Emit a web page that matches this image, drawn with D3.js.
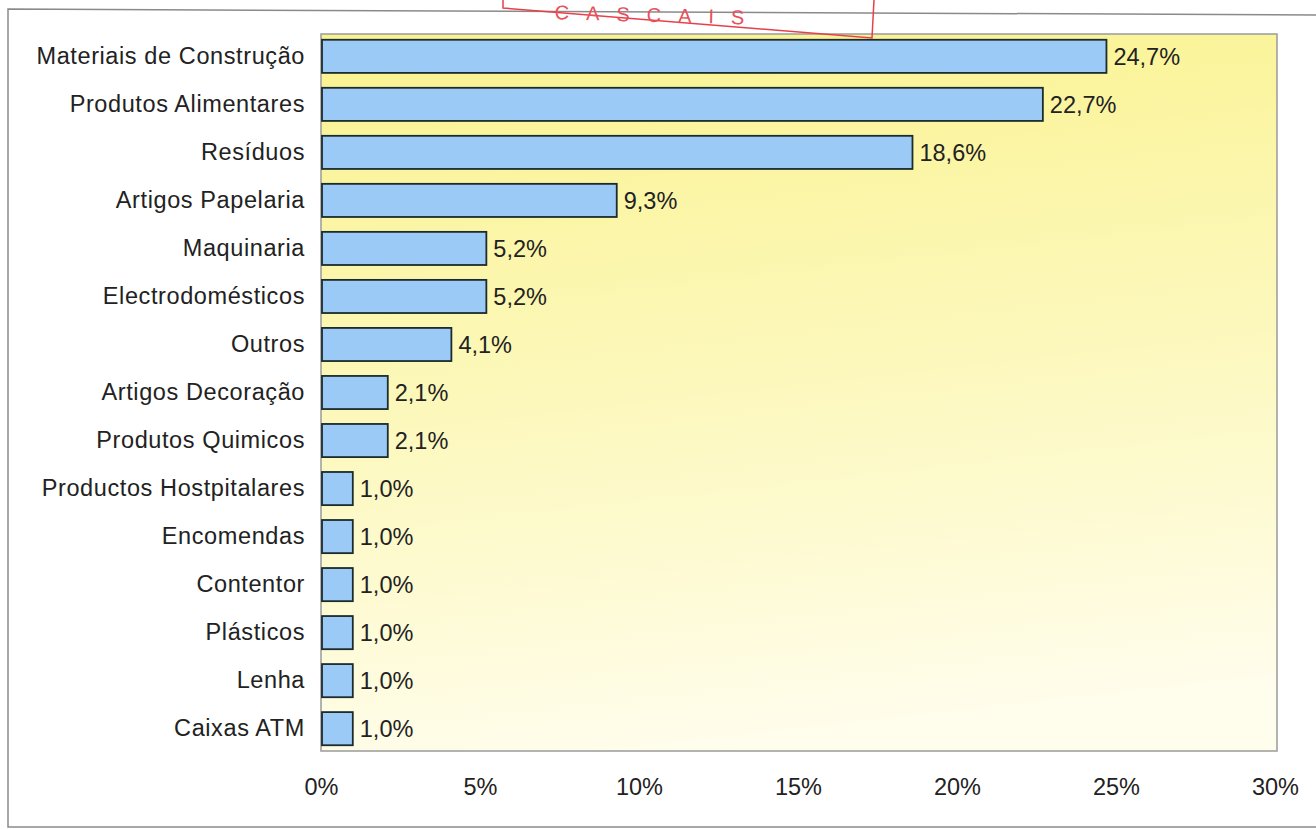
<!DOCTYPE html>
<html><head><meta charset="utf-8">
<script src="https://cdn.jsdelivr.net/npm/d3@7"></script>
<style>
html,body{margin:0;padding:0;background:#fff;}
svg{display:block;}
text{font-family:"Liberation Sans",Arial,sans-serif;}
</style></head>
<body>
<svg id="chart" width="1316" height="829"></svg>
<script>
const categories = ["Materiais de Construção","Produtos Alimentares","Resíduos","Artigos Papelaria","Maquinaria","Electrodomésticos","Outros","Artigos Decoração","Produtos Quimicos","Productos Hostpitalares","Encomendas","Contentor","Plásticos","Lenha","Caixas ATM"];
const values = [24.7,22.7,18.6,9.3,5.2,5.2,4.1,2.1,2.1,1.0,1.0,1.0,1.0,1.0,1.0];
const valueLabels = ["24,7%","22,7%","18,6%","9,3%","5,2%","5,2%","4,1%","2,1%","2,1%","1,0%","1,0%","1,0%","1,0%","1,0%","1,0%"];
const tickValues = [0,5,10,15,20,25,30];
const tickLabels = ["0%","5%","10%","15%","20%","25%","30%"];

const svg = d3.select("#chart");
const plot = {left:321, right:1277, top:34, bottom:751};
const FS = 23.5;

const x = d3.scaleLinear().domain([0,30]).range([plot.left, plot.right-2]);
const y = d3.scaleBand().domain(categories).range([plot.top, plot.bottom]).paddingInner(0.31).paddingOuter(0.12);

// outer frame
svg.append("path").attr("d","M1316,15 L8,9 L8,827 L1316,827")
  .attr("fill","none").attr("stroke","#8a8a8a").attr("stroke-width",1.5);

// gradient
const defs = svg.append("defs");
const g = defs.append("linearGradient").attr("id","bg").attr("x1","0.25").attr("y1","0").attr("x2","0.4").attr("y2","1");
g.append("stop").attr("offset","0").attr("stop-color","#faf392");
g.append("stop").attr("offset","0.5").attr("stop-color","#fcf8bc");
g.append("stop").attr("offset","1").attr("stop-color","#fffdec");

svg.append("rect").attr("x",plot.left).attr("y",plot.top)
  .attr("width",plot.right-plot.left).attr("height",plot.bottom-plot.top)
  .attr("fill","url(#bg)").attr("stroke","#9a9a9a").attr("stroke-width",1.5);

// bars
svg.selectAll("rect.bar").data(categories).enter().append("rect").attr("class","bar")
  .attr("x",x(0)+1).attr("y",d=>y(d))
  .attr("width",(d,i)=>x(values[i])-x(0)-1).attr("height",y.bandwidth())
  .attr("fill","#9ccaf6").attr("stroke","#1c2b2b").attr("stroke-width",1.8);

// value labels
svg.selectAll("text.val").data(categories).enter().append("text").attr("class","val")
  .attr("x",(d,i)=>x(values[i])+7).attr("y",d=>y(d)+y.bandwidth()/2)
  .attr("dy","0.36em").attr("font-size",FS).attr("fill","#222")
  .text((d,i)=>valueLabels[i]);

// category axis
const yAxis = d3.axisLeft(y).tickSize(0).tickPadding(16);
const ya = svg.append("g").attr("transform",`translate(${plot.left},0)`).call(yAxis);
ya.select(".domain").remove();
ya.selectAll("text").attr("font-size",FS).attr("letter-spacing",0.6).attr("fill","#222").attr("font-family","Liberation Sans, Arial, sans-serif");

// x axis
const xAxis = d3.axisBottom(x).tickValues(tickValues).tickSize(0).tickPadding(27)
  .tickFormat((d,i)=>tickLabels[i]);
const xa = svg.append("g").attr("transform",`translate(0,${plot.bottom})`).call(xAxis);
xa.select(".domain").remove();
xa.selectAll("text").attr("font-size",FS).attr("fill","#222").attr("font-family","Liberation Sans, Arial, sans-serif");

// red stamp (partial)
svg.append("path").attr("d","M503,0 L503,8 L872,38 L874,0")
  .attr("fill","none").attr("stroke","#e8404a").attr("stroke-width",1.5);
svg.append("text").attr("x",658).attr("y",22).attr("text-anchor","middle")
  .attr("transform","rotate(1.5,658,15)")
  .attr("font-family","Liberation Serif, serif").attr("font-size",20)
  .attr("letter-spacing",17).attr("fill","#e8505a").text("CASCAIS");
</script>
</body></html>
